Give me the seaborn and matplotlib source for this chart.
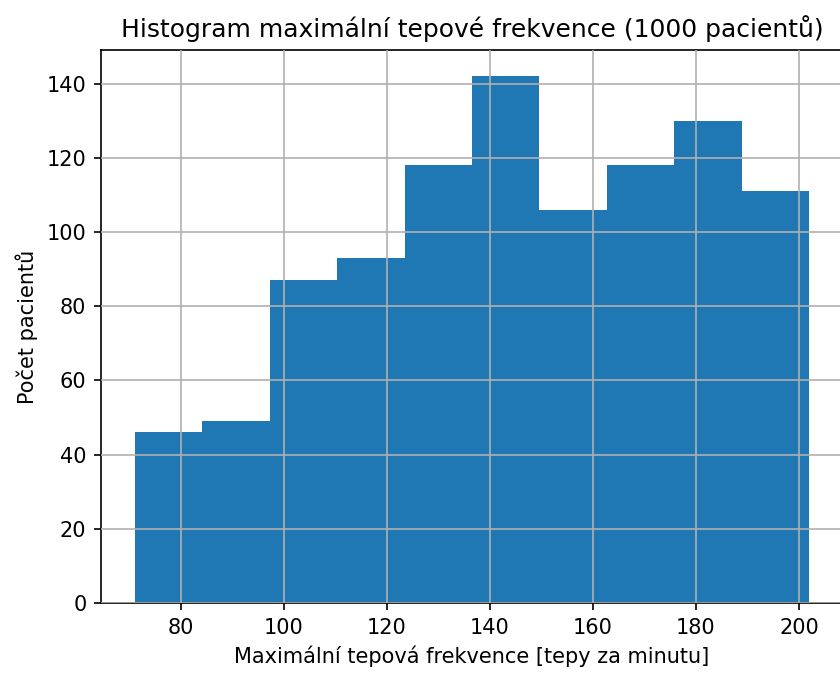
import matplotlib
matplotlib.use("Agg")
import matplotlib.pyplot as plt
import seaborn as sns
import numpy as np

# Data
bin_edges = [71.0, 84.1, 97.2, 110.3, 123.4, 136.5, 149.6, 162.7, 175.8, 188.9, 202.0]
counts = [46, 49, 87, 93, 118, 142, 106, 118, 130, 111]

title = "Histogram maximální tepové frekvence (1000 pacientů)"
xlabel = "Maximální tepová frekvence [tepy za minutu]"
ylabel = "Počet pacientů"

centers = [(a + b) / 2 for a, b in zip(bin_edges[:-1], bin_edges[1:])]

fig = plt.figure(figsize=(5.6, 673 / 150), dpi=150)
ax = fig.add_axes([101 / 840, (673 - 603) / 673, (843 - 101) / 840, (603 - 50) / 673])

sns.histplot(x=centers, weights=counts, bins=bin_edges, ax=ax,
             color="#1f77b4", alpha=1.0, linewidth=0, edgecolor="none")

ax.set_ylabel(ylabel)
ax.set_xlabel(xlabel)
ax.set_title(title)
ax.set_xticks([80, 100, 120, 140, 160, 180, 200])
ax.set_yticks([0, 20, 40, 60, 80, 100, 120, 140])
ax.margins(x=0.05)
ax.set_ylim(0, 142 * 1.05)
ax.grid(True, color="#b0b0b0", linewidth=0.8)
ax.set_axisbelow(False)
for p in ax.patches:
    p.set_zorder(1)
for gl in ax.get_xgridlines() + ax.get_ygridlines():
    gl.set_zorder(1.5)

fig.savefig("out.png", dpi=150)
